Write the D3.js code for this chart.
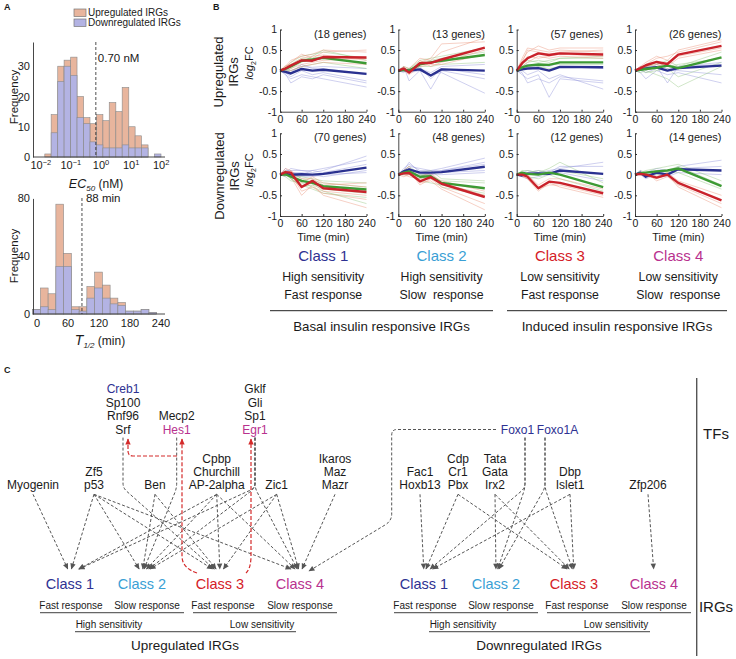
<!DOCTYPE html>
<html><head><meta charset="utf-8">
<script src="https://cdn.jsdelivr.net/npm/d3@7"></script>
<style>
body{margin:0;background:#fff}
svg{display:block}
text{font-family:"Liberation Sans",Arial,Helvetica,sans-serif;fill:#1a1a1a}
</style>
</head><body>
<svg id="c" width="736" height="659"></svg>
<script>
// ---------------- DATA ----------------
// Panel A top: EC50 histogram (log10 bin edges, counts)
const ec50Edges = [-2.06,-1.85,-1.64,-1.42,-1.21,-0.99,-0.78,-0.56,-0.35,-0.13,0.08,0.29,0.51,0.72,0.94,1.15,1.36,1.58,1.79,2.01];
const ec50Up    = [0,1,14,30,32,33,20,13,11,14,12,18,15,23,10,7,4,0,0];
const ec50Down  = [0,0,8,25,30,27,13,11,5,4,3,3,3,4,3,3,3,0,1];
const ec50Ticks = [0.01,0.1,1,10,100];
const ec50FreqTicks = [0,10,20,30];
const ec50Threshold = 0.70;
// Panel A bottom: T1/2 histogram (bin centres in min, counts)
const tHalfCenters = [0,15,30,45,60,75,90,105,120,135,150,165,180,195,210,225];
const tHalfUp      = [3,18,14,76,42,5,5,19,29,20,11,8,2,2,3,1];
const tHalfDown    = [3,5,3,33,33,3,2,11,18,11,7,6,2,2,3,1];
const tHalfTicks = [0,60,120,180,240];
const tHalfFreqTicks = [0,40,80];
const tHalfThreshold = 88;

// Panel B: time courses (log2 FC)
const timePoints = [0,15,30,60,90,120,240];
const geneCounts = [18,13,57,26,70,48,12,14];
const meanRed = [
 [0,0.05,0.12,0.25,0.24,0.33,0.32],
 [0,0.05,-0.05,0.18,0.19,0.27,0.56],
 [0,0.18,0.3,0.42,0.38,0.42,0.39],
 [0,0.06,0.13,0.21,0.16,0.39,0.6],
 [0,0.06,0.05,-0.3,-0.15,-0.33,-0.42],
 [0,0.03,0.04,-0.16,-0.06,-0.22,-0.54],
 [0,0.0,-0.05,-0.33,-0.17,-0.2,-0.45],
 [0,0.02,0.0,-0.07,0.0,-0.2,-0.62]];
const meanGreen = [
 [0,0.04,0.1,0.24,0.27,0.31,0.18],
 [0,0.02,0.0,0.15,0.2,0.24,0.38],
 [0,0.08,0.12,0.15,0.14,0.2,0.2],
 [0,0.02,0.04,0.07,0.12,0.06,0.32],
 [0,0.01,-0.05,-0.15,-0.2,-0.28,-0.36],
 [0,0.05,0.08,-0.05,-0.04,-0.2,-0.33],
 [0,0.05,0.02,0.0,0.05,0.0,-0.3],
 [0,0.03,0.05,0.08,0.1,0.15,-0.28]];
const meanBlue = [
 [0,-0.03,-0.07,0.04,0.0,0.02,-0.08],
 [0,0.02,0.0,0.03,-0.12,0.03,0.0],
 [0,0.03,0.05,0.06,0.0,0.09,0.08],
 [0,0.03,0.05,0.08,0.0,0.06,0.12],
 [0,0.02,0.0,0.01,0.0,0.02,0.17],
 [0,0.08,0.13,0.05,0.05,0.06,0.19],
 [0,-0.02,0.02,0.03,0.02,0.1,0.02],
 [0,0.05,-0.05,0.05,0.0,0.13,0.1]];
const thinRed = [
 [[0,0.1,0.25,0.35,0.4,0.5,0.45],[0,0.0,0.05,0.15,0.2,0.25,0.3],[0,0.08,0.2,0.4,0.3,0.45,0.5],[0,-0.05,0.0,0.1,0.15,0.2,0.15],[0,0.12,0.15,0.3,0.35,0.38,0.25]],
 [[0,0.1,0.05,0.3,0.25,0.45,0.8],[0,0.0,-0.1,0.1,0.15,0.15,0.4],[0,0.05,0.0,0.2,0.3,0.65,0.7],[0,0.08,-0.05,0.25,0.1,0.2,0.5]],
 [[0,0.3,0.55,0.5,0.45,0.5,0.45],[0,0.1,0.2,0.35,0.3,0.35,0.3],[0,0.25,0.45,0.6,0.5,0.55,0.55],[0,0.15,0.35,0.3,0.35,0.4,0.35],[0,0.2,0.5,0.45,0.4,0.45,0.5]],
 [[0,0.1,0.2,0.35,0.25,0.5,0.75],[0,0.0,0.1,0.15,0.1,0.3,0.5],[0,0.05,0.15,0.3,0.35,0.45,0.7],[0,0.1,0.05,0.1,0.2,0.35,0.55]],
 [[0,0.1,0.0,-0.4,-0.3,-0.45,-0.6],[0,0.0,0.1,-0.2,-0.05,-0.2,-0.3],[0,0.05,-0.05,-0.5,-0.25,-0.5,-0.8],[0,0.15,0.1,-0.1,-0.1,-0.25,-0.2],[0,0.0,0.0,-0.3,-0.2,-0.4,-0.5]],
 [[0,0.05,0.1,-0.25,-0.1,-0.3,-0.7],[0,0.0,-0.05,-0.1,0.0,-0.15,-0.4],[0,0.1,0.2,-0.2,-0.15,-0.35,-0.85],[0,-0.05,0.0,-0.05,0.05,-0.2,-0.5]],
 [[0,0.0,-0.1,-0.4,-0.2,-0.3,-0.55],[0,0.05,0.0,-0.25,-0.1,-0.1,-0.35],[0,-0.05,-0.1,-0.35,-0.25,-0.25,-0.5]],
 [[0,0.05,0.0,-0.1,0.0,-0.3,-0.8],[0,0.0,-0.05,-0.05,0.05,-0.15,-0.5],[0,0.05,0.05,-0.15,-0.05,-0.25,-0.7]]];
const thinGreen = [
 [[0,0.05,0.2,0.35,0.4,0.45,0.3],[0,0.0,0.0,0.1,0.15,0.2,0.05],[0,0.1,0.15,0.3,0.3,0.35,0.15],[0,-0.05,0.05,0.2,0.35,0.5,0.25]],
 [[0,0.1,0.05,0.25,0.3,0.35,0.55],[0,0.0,-0.05,0.1,0.1,0.15,0.2],[0,0.05,0.05,0.2,0.25,0.3,0.45]],
 [[0,0.1,0.2,0.25,0.2,0.3,0.3],[0,0.05,0.05,0.1,0.05,0.1,0.1],[0,0.15,0.25,0.2,0.25,0.3,0.35],[0,0.0,0.1,0.05,0.15,0.15,0.15]],
 [[0,0.05,0.1,0.15,0.25,0.1,0.45],[0,-0.05,0.0,-0.1,-0.2,-0.4,0.1],[0,0.0,0.1,0.2,0.1,0.15,0.3],[0,0.05,-0.05,0.0,0.05,-0.15,0.2]],
 [[0,0.05,-0.1,-0.25,-0.35,-0.45,-0.55],[0,0.0,0.0,-0.05,-0.1,-0.15,-0.2],[0,-0.05,-0.15,-0.2,-0.3,-0.4,-0.7],[0,0.1,0.05,-0.1,-0.15,-0.2,-0.3],[0,0.0,-0.1,-0.3,-0.25,-0.35,-0.45]],
 [[0,0.1,0.2,0.0,0.0,-0.3,-0.5],[0,0.0,0.0,-0.1,-0.1,-0.15,-0.2],[0,0.05,0.15,-0.15,-0.2,-0.25,-0.45],[0,0.1,0.05,0.05,0.1,-0.1,-0.15]],
 [[0,0.1,0.1,0.05,0.15,0.3,-0.2],[0,0.0,-0.05,-0.1,0.0,-0.1,-0.4],[0,0.05,0.05,0.1,0.05,0.1,-0.1]],
 [[0,0.05,0.1,0.15,0.2,0.25,-0.15],[0,0.0,0.0,0.0,0.05,0.05,-0.35],[0,0.1,0.05,0.1,0.1,0.2,-0.25]]];
const thinBlue = [
 [[0,-0.05,-0.15,0.0,-0.1,-0.05,-0.25],[0,0.05,0.0,0.1,0.08,0.1,0.05],[0,-0.1,-0.2,-0.1,-0.15,-0.2,-0.4],[0,0.02,-0.05,0.15,0.05,0.05,-0.1],[0,-0.08,-0.3,-0.15,-0.2,-0.1,-0.3]],
 [[0,0.05,0.0,0.1,-0.2,0.05,-0.1],[0,0.0,-0.05,0.0,-0.45,0.0,-0.2],[0,-0.05,0.05,0.05,-0.05,0.1,0.15],[0,0.1,-0.25,0.0,-0.1,-0.05,-0.55]],
 [[0,0.05,0.1,0.1,0.0,0.1,0.05],[0,-0.1,-0.2,-0.1,-0.65,-0.2,-0.3],[0,0.0,-0.1,0.0,-0.2,-0.1,-0.45],[0,0.1,0.15,0.15,0.1,0.2,0.2],[0,-0.05,-0.3,-0.2,-0.3,-0.15,-0.25]],
 [[0,0.05,0.1,0.1,-0.3,0.1,0.15],[0,0.0,-0.05,0.05,0.0,0.0,-0.1],[0,0.1,0.0,0.15,0.05,0.1,0.2],[0,-0.05,-0.2,0.0,-0.1,-0.05,-0.3]],
 [[0,0.1,0.1,0.1,0.1,0.15,0.35],[0,0.0,-0.05,-0.05,-0.05,0.0,0.05],[0,0.05,0.15,0.1,0.05,0.1,0.45],[0,-0.05,0.05,0.0,0.1,0.05,0.25],[0,0.15,0.05,0.05,0.0,-0.05,0.1]],
 [[0,0.15,0.25,0.1,0.1,0.15,0.4],[0,0.05,0.05,0.0,0.0,0.0,0.05],[0,0.1,0.2,0.15,0.1,0.1,0.3],[0,0.0,0.1,-0.05,0.05,0.05,0.1],[0,0.1,0.3,0.05,0.0,0.1,0.25]],
 [[0,0.0,0.05,0.1,0.05,0.2,0.2],[0,-0.05,-0.1,-0.05,0.0,0.05,-0.15],[0,0.05,0.1,0.05,0.1,0.15,0.3]],
 [[0,0.1,0.0,0.1,0.0,0.2,0.35],[0,0.0,-0.1,0.0,-0.05,0.05,0.0],[0,0.05,0.05,0.15,0.1,0.15,0.2]]];
const fcTicks = [-1,-0.5,0,0.5,1];
const timeTicks = [0,60,120,180,240];

const classNames = ["Class 1","Class 2","Class 3","Class 4"];
const classSens  = ["High sensitivity","High sensitivity","Low sensitivity","Low sensitivity"];
const classResp  = ["Fast response","Slow  response","Fast response","Slow  response"];
const groupNames = ["Basal insulin responsive IRGs","Induced insulin responsive IRGs"];

// Panel C: regulatory network
const tfUp = [["Myogenin"],["Zf5","p53"],["Creb1","Sp100","Rnf96","Srf"],["Mecp2","Hes1"],["Ben"],["Cpbp","Churchill","AP-2alpha"],["Gklf","Gli","Sp1","Egr1"],["Zic1"],["Ikaros","Maz","Mazr"]];
const tfDown = [["Fac1","Hoxb13"],["Cdp","Cr1","Pbx"],["Tata","Gata","Irx2"],["Foxo1"],["Foxo1A"],["Dbp","Islet1"],["Zfp206"]];
const edgesUp = [[0,[0]],[1,[0,1,2,3]],[2,[2]],[3,[1]],[4,[1,2]],[5,[0,1,2,3]],[6,[0,1,3]],[7,[1,2,3]],[8,[3]]];
const edgesDown = [[0,[0]],[1,[0,2]],[2,[1,2]],[3,[0,1]],[4,[1,2]],[5,[0,2]],[6,[3]]];
const respNames = ["Fast response","Slow response","Fast response","Slow response"];
const sensNames = ["High sensitivity","Low sensitivity"];
const sideNames = ["Upregulated IRGs","Downregulated IRGs"];

// ---------------- STYLE / LAYOUT ----------------
const NAVY='#2e3192', LBLUE='#3a9fd5', RED='#d42027', MAG='#b8318e';
const classColors=[NAVY,LBLUE,RED,MAG];
const tfColor={Creb1:NAVY,Hes1:MAG,Egr1:MAG,Foxo1:NAVY,Foxo1A:NAVY};
const FONT='"Liberation Sans",Arial,Helvetica,sans-serif';
const svg=d3.select('#c');

function T(x,y,s,o={}){
  const t=svg.append('text').attr('x',x).attr('y',y).text(s)
   .attr('font-size',o.size||12).attr('text-anchor',o.anchor||'middle')
   .style('fill',o.color||'#1a1a1a');
  if(o.weight) t.attr('font-weight',o.weight);
  if(o.rot){ t.attr('transform',`rotate(-90,${x},${y})`).attr('dy','0.35em'); }
  if(o.pre) t.style('white-space','pre');
  return t;
}
function styleAxis(g,size){
  g.attr('font-family',FONT).attr('font-size',size).attr('color','#2a2a2a');
  g.select('.domain').attr('stroke','#333').attr('stroke-width',0.9);
  g.selectAll('.tick text').style('fill','#1a1a1a');
}

// ---------------- PANEL A ----------------
T(4,10,'A',{size:9,weight:'bold',anchor:'start'});
// legend
const UPF='#e8b59d', DNF='#b3b3e3', EDGE='#8a8a8a';
[[UPF,'Upregulated IRGs',9],[DNF,'Downregulated IRGs',19]].forEach(([c,s,y])=>{
  svg.append('rect').attr('x',74).attr('y',y).attr('width',12).attr('height',7.5).attr('fill',c).attr('stroke','#777').attr('stroke-width',0.7);
  T(88,y+7,s,{size:10,anchor:'start'});
});
// top histogram
const xEC=d3.scaleLog().domain([1e-2,1e2]).range([40.3,160.7]);
const yEC=d3.scaleLinear().domain([0,38]).range([157,42]);
[[ec50Up,UPF],[ec50Down,DNF]].forEach(([arr,col])=>{
  svg.append('g').selectAll('rect').data(arr).join('rect')
   .attr('x',(d,i)=>xEC(10**ec50Edges[i])).attr('width',(d,i)=>xEC(10**ec50Edges[i+1])-xEC(10**ec50Edges[i]))
   .attr('y',d=>yEC(d)).attr('height',d=>yEC(0)-yEC(d))
   .attr('fill',col).attr('stroke',EDGE).attr('stroke-width',0.6);
});
const gxE=svg.append('g').attr('transform','translate(0,157)')
  .call(d3.axisBottom(xEC).tickValues(ec50Ticks).tickSize(0).tickPadding(4).tickFormat(()=>''));
styleAxis(gxE,11);
gxE.select('.domain').attr('d','M33,0H165');
gxE.selectAll('.tick text').each(function(d){
  const t=d3.select(this); t.text('');
  t.append('tspan').text('10');
  t.append('tspan').attr('dy',-4).attr('font-size',7.5).text(String(Math.round(Math.log10(d))).replace('-','\u2212'));
});
const gyE=svg.append('g').attr('transform','translate(33,0)')
  .call(d3.axisLeft(yEC).tickValues(ec50FreqTicks).tickSize(0).tickPadding(3).tickSizeOuter(0));
styleAxis(gyE,11);
svg.append('line').attr('x1',xEC(ec50Threshold)).attr('x2',xEC(ec50Threshold)).attr('y1',42).attr('y2',157)
  .attr('stroke','#222').attr('stroke-width',0.8).attr('stroke-dasharray','3,2');
T(xEC(ec50Threshold)+2,62,'0.70 nM',{size:11.5,anchor:'start'});
T(14,97,'Frequency',{size:11.5,rot:true});
const ecLab=T(96,188,'',{size:12.5});
ecLab.append('tspan').text('EC').attr('font-style','italic');
ecLab.append('tspan').text('50').attr('font-style','italic').attr('font-size',8).attr('dy',3);
ecLab.append('tspan').text(' (nM)').attr('dy',-3).attr('font-size',12);

// bottom histogram
const xT=d3.scaleLinear().domain([0,240]).range([36.5,160.5]);
const yT=d3.scaleLinear().domain([0,80]).range([314,198.4]);
[[tHalfUp,UPF],[tHalfDown,DNF]].forEach(([arr,col])=>{
  svg.append('g').selectAll('rect').data(arr).join('rect')
   .attr('x',(d,i)=>xT(tHalfCenters[i]-7.5)).attr('width',xT(15)-xT(0))
   .attr('y',d=>yT(d)).attr('height',d=>yT(0)-yT(d))
   .attr('fill',col).attr('stroke',EDGE).attr('stroke-width',0.6);
});
const gxT=svg.append('g').attr('transform','translate(0,314)')
  .call(d3.axisBottom(xT).tickValues(tHalfTicks).tickSize(0).tickPadding(5));
styleAxis(gxT,11);
gxT.select('.domain').attr('d','M33,0H165');
const gyT=svg.append('g').attr('transform','translate(33,0)')
  .call(d3.axisLeft(yT).tickValues(tHalfFreqTicks).tickSize(0).tickPadding(3).tickSizeOuter(0));
styleAxis(gyT,11);
svg.append('line').attr('x1',xT(tHalfThreshold)).attr('x2',xT(tHalfThreshold)).attr('y1',198).attr('y2',314)
  .attr('stroke','#222').attr('stroke-width',0.8).attr('stroke-dasharray','3,2');
T(xT(tHalfThreshold)+4,202,'88 min',{size:11.5,anchor:'start'});
T(14,256,'Frequency',{size:11.5,rot:true});
const tLab=T(100,345,'',{size:12.5});
tLab.append('tspan').text('T').attr('font-style','italic').attr('font-size',14);
tLab.append('tspan').text('1/2').attr('font-style','italic').attr('font-size',8).attr('dy',3);
tLab.append('tspan').text(' (min)').attr('dy',-3).attr('font-size',12);

// ---------------- PANEL B ----------------
T(213,10,'B',{size:9,weight:'bold',anchor:'start'});
const colX=[280,398.3,516.7,635], pw=86.5;
const rowY=[[29.5,111.7],[133.3,216]];
const THIN={r:'#ea8f73',g:'#8fc47a',b:'#8b8fd9'};
const THICK={r:'#c9222b',g:'#3d9a34',b:'#2a3190'};
for(let i=0;i<8;i++){
  const r=Math.floor(i/4), c=i%4;
  const x=d3.scaleLinear().domain([0,240]).range([colX[c],colX[c]+pw]);
  const y=d3.scaleLinear().domain([-1,1]).range([rowY[r][1],rowY[r][0]]);
  const line=d3.line().x((d,j)=>x(timePoints[j])).y(d=>y(d));
  const g=svg.append('g');
  [[thinBlue,THIN.b],[thinGreen,THIN.g],[thinRed,THIN.r]].forEach(([arr,col])=>{
    g.selectAll(null).data(arr[i]).join('path').attr('d',line).attr('fill','none')
     .attr('stroke',col).attr('stroke-width',0.6).attr('opacity',0.7);
  });
  [[meanBlue,THICK.b],[meanGreen,THICK.g],[meanRed,THICK.r]].forEach(([arr,col])=>{
    g.append('path').attr('d',line(arr[i])).attr('fill','none').attr('stroke',col)
     .attr('stroke-width',2.4).attr('stroke-linejoin','round');
  });
  const gx=svg.append('g').attr('transform',`translate(0,${rowY[r][1]})`)
    .call(d3.axisBottom(x).tickValues(timeTicks).tickSize(-2).tickSizeOuter(0).tickPadding(4));
  styleAxis(gx,10.5);
  const gy=svg.append('g').attr('transform',`translate(${colX[c]},0)`)
    .call(d3.axisLeft(y).tickValues(fcTicks).tickSize(-2).tickSizeOuter(0).tickPadding(3).tickFormat(d=>String(d)));
  styleAxis(gy,10.5);
  T(colX[c]+pw,rowY[r][0]+8,`(${geneCounts[i]} genes)`,{size:11,anchor:'end'});
  if(r===1) T(colX[c]+pw/2,240.5,'Time (min)',{size:11});
}
// row labels
T(218,72,'Upregulated',{size:13,rot:true}); T(233,72,'IRGs',{size:13,rot:true});
T(219,176,'Downregulated',{size:13,rot:true}); T(234,176,'IRGs',{size:13,rot:true});
[[249,63],[249,170]].forEach(([xx,yy])=>{
  const t=T(xx,yy,'',{size:11,rot:true});
  t.append('tspan').text('log').attr('font-style','italic');
  t.append('tspan').text('2').attr('font-size',7).attr('dy',3);
  t.append('tspan').text('FC').attr('dy',-3);
});
// class descriptions
classNames.forEach((s,k)=>{
  const cx=colX[k]+pw/2;
  T(cx,260.5,s,{size:15,color:classColors[k]});
  T(cx,281,classSens[k],{size:12.3});
  T(cx,299.3,classResp[k],{size:12.3,pre:true});
});
[[270,493],[507,727]].forEach(([a,b],k)=>{
  svg.append('line').attr('x1',a).attr('x2',b).attr('y1',310.7).attr('y2',310.7).attr('stroke','#222').attr('stroke-width',1);
  T((a+b)/2,330.8,groupNames[k],{size:13.3});
});

// ---------------- PANEL C ----------------
T(4,373,'C',{size:9,weight:'bold',anchor:'start'});
const defs=svg.append('defs');
[['ag','#555'],['ar','#d42a2a']].forEach(([id,col])=>{
  defs.append('marker').attr('id',id).attr('viewBox','0 0 10 10').attr('refX',9).attr('refY',5)
   .attr('markerWidth',7).attr('markerHeight',6).attr('markerUnits','userSpaceOnUse').attr('orient','auto')
   .append('path').attr('d','M0,0.5 L10,5 L0,9.5 z').attr('fill',col);
});
const LH=13.4;
// layout for TF groups: [centre x, baseline of last line, stem x or null]
const upLayout=[[33,489.3,null],[94,489.3,null],[123,433.6,123],[176.7,433.6,176.7],[155,489.3,null],[216.7,489.3,null],[255,433.6,255],[276.7,489.3,null],[335,489.3,null]];
const dnLayout=[[420,489.3,null],[458,489.3,null],[495,489.3,null],[517.5,433.6,525],[557.5,433.6,545],[570,489.3,null],[648,489.3,null]];
const classXUp=[70,142,220,300], classXDn=[424,496,574,654];
function drawTFs(groups,layout){
  groups.forEach((names,gi)=>{
    const [cx,last]=layout[gi];
    names.forEach((n,li)=>T(cx,last-(names.length-1-li)*LH,n,{size:12,color:tfColor[n]||'#1a1a1a'}));
  });
}
drawTFs(tfUp,upLayout); drawTFs(tfDown,dnLayout);
const gE=svg.append('g').attr('fill','none');
function drawEdges(edges,layout,classX){
  edges.forEach(([si,targets])=>{
    const [cx,last,stem]=layout[si];
    targets.forEach(ti=>{
      const sx=stem!==null?stem:cx;
      const tx=classX[ti]+Math.max(-9,Math.min(9,(sx-classX[ti])*0.06)), ty=569;
      let d;
      if(stem!==null){
        const sTop=last+4, sBot=488;
        const dx=tx-sx, dy=ty-sBot, L=Math.hypot(dx,dy);
        d=`M${sx},${sTop}V${sBot-5}Q${sx},${sBot} ${sx+dx/L*5},${sBot+dy/L*5}L${tx},${ty}`;
      } else {
        d=`M${cx},${last+5}L${tx},${ty}`;
      }
      gE.append('path').attr('d',d).attr('stroke','#555').attr('stroke-width',1)
        .attr('stroke-dasharray','3,2').attr('marker-end','url(#ag)');
    });
  });
}
drawEdges(edgesUp,upLayout,classXUp);
drawEdges(edgesDown,dnLayout,classXDn);
// Foxo1 -> upregulated Class 4
gE.append('path').attr('d','M496,429.5H397Q391.7,429.5 391.7,435V514Q391.7,521 385,525L309,571')
  .attr('stroke','#555').attr('stroke-width',1).attr('stroke-dasharray','3,2').attr('marker-end','url(#ag)');
// red feedback arrows
[
 'M177,456H133Q128,456 128,451V439',
 'M197,573Q182,568 182,556V439',
 'M246,573Q251,568 251,556V439'
].forEach(d=>gE.append('path').attr('d',d).attr('stroke','#d42a2a').attr('stroke-width',1.2)
   .attr('stroke-dasharray','4,2').attr('marker-end','url(#ar)'));
// class rows
[[classXUp,0],[classXDn,1]].forEach(([cxs,side])=>{
  const off=side*354;
  cxs.forEach((cx,k)=>T(cx,588.5,classNames[k],{size:14.5,color:classColors[k]}));
  [71,147,223,300].forEach((x,k)=>T(x+off,608.6,respNames[k],{size:10}));
  [[40,184],[193,337]].forEach(([a,b])=>svg.append('line').attr('x1',a+off).attr('x2',b+off)
     .attr('y1',612.7).attr('y2',612.7).attr('stroke','#666').attr('stroke-width',1.2));
  [109,262].forEach((x,k)=>T(x+off,628,sensNames[k],{size:10}));
  svg.append('line').attr('x1',75+off).attr('x2',296+off).attr('y1',631.7).attr('y2',631.7).attr('stroke','#666').attr('stroke-width',1.2);
  T(185+off,650,sideNames[side],{size:13.5});
});
svg.append('line').attr('x1',696.7).attr('x2',696.7).attr('y1',378).attr('y2',656).attr('stroke','#555').attr('stroke-width',1.4);
T(716,438.5,'TFs',{size:15});
T(716,612,'IRGs',{size:15});
</script>
</body></html>
